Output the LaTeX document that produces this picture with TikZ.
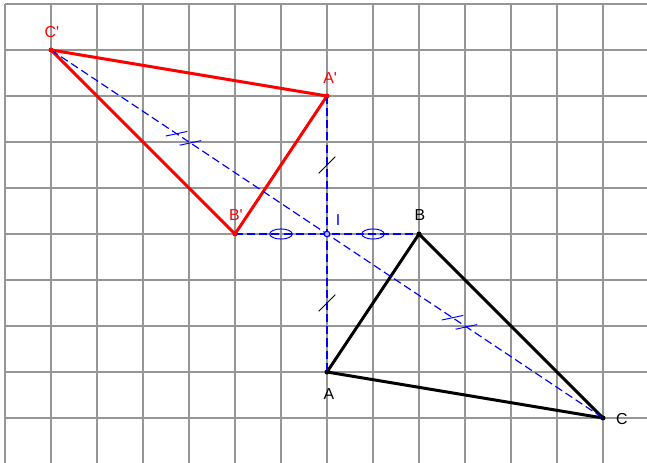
\documentclass[tikz,border=0pt]{standalone}
\usepackage{fontspec}
\setmainfont{Liberation Sans}[Ligatures=TeXOff]
\usetikzlibrary{calc}
\definecolor{setka}{RGB}{150,150,150}

\begin{document}
\begin{tikzpicture}[
    setkaline/.style={draw=setka, line width=0.65pt},
    storona/.style={line width=1.85pt, line join=round},
    simm/.style={blue, line width=0.7pt, dash pattern=on 5pt off 2.5pt},
    shtrih/.style={line width=0.6pt},
    metka/.style={font=\fontsize{9.8}{11}\selectfont, inner sep=0pt}
]
    % Рамка рисунка
    \useasboundingbox (-7.109,-4.978) rectangle (6.957,5.087);
    \clip (-7.109,-4.978) rectangle (6.957,5.087);

    % Клетчатая сетка
    \draw[setkaline] (-7,-5.5) grid (7.5,5);

    % Вершины и центр симметрии
    \coordinate (A) at (0,-3);
    \coordinate (B) at (2,0);
    \coordinate (C) at (6,-4);
    \coordinate (I) at (0,0);
    \coordinate (A') at (0,3);
    \coordinate (B') at (-2,0);
    \coordinate (C') at (-6,4);

    % Исходный треугольник ABC
    \draw[storona, black] (A) -- (B) -- (C) -- cycle;
    % Симметричный треугольник A'B'C'
    \draw[storona, red] (A') -- (B') -- (C') -- cycle;

    % Отрезки через центр I
    \draw[simm] (A') -- (A);
    \draw[simm] (B') -- (B);
    \draw[simm] (C') -- (C);

    % Одинарные штрихи на A'I и IA
    \draw[shtrih, black] ($(A')!0.5!(I)$) +(-0.18,-0.18) -- +(0.18,0.18);
    \draw[shtrih, black] ($(I)!0.5!(A)$) +(-0.18,-0.18) -- +(0.18,0.18);

    % Кружки на B'I и IB
    \draw[shtrih, blue] ($(B')!0.5!(I)$) ellipse (0.245 and 0.11);
    \draw[shtrih, blue] ($(I)!0.5!(B)$) ellipse (0.245 and 0.11);

    % Двойные штрихи на C'I и IC
    \draw[shtrih, blue] ($(C')!0.455!(I)$) +(-0.235,-0.05) -- +(0.235,0.05);
    \draw[shtrih, blue] ($(C')!0.505!(I)$) +(-0.235,-0.05) -- +(0.235,0.05);
    \draw[shtrih, blue] ($(I)!0.455!(C)$) +(-0.235,-0.05) -- +(0.235,0.05);
    \draw[shtrih, blue] ($(I)!0.505!(C)$) +(-0.235,-0.05) -- +(0.235,0.05);

    % Точки
    \fill[black] (A) circle (0.055);
    \fill[black] (B) circle (0.055);
    \fill[black] (C) circle (0.055);
    \fill[red] (A') circle (0.055);
    \fill[red] (B') circle (0.055);
    \fill[red] (C') circle (0.055);
    \filldraw[fill=blue!25, draw=blue, line width=0.7pt] (I) circle (0.06);

    % Подписи
    \node[metka] (tA) at (0.04,-3.48) {A};
    \node[metka] (tB) at (2.02,0.42) {B};
    \node[metka] (tC) at (6.41,-4.02) {C};
    \node[metka, blue] (tI) at (0.24,0.30) {I};
    \node[metka, red] (tA1) at (0.07,3.40) {A'};
    \node[metka, red] (tB1) at (-1.98,0.42) {B'};
    \node[metka, red] (tC1) at (-5.98,4.40) {C'};
\end{tikzpicture}
\end{document}
